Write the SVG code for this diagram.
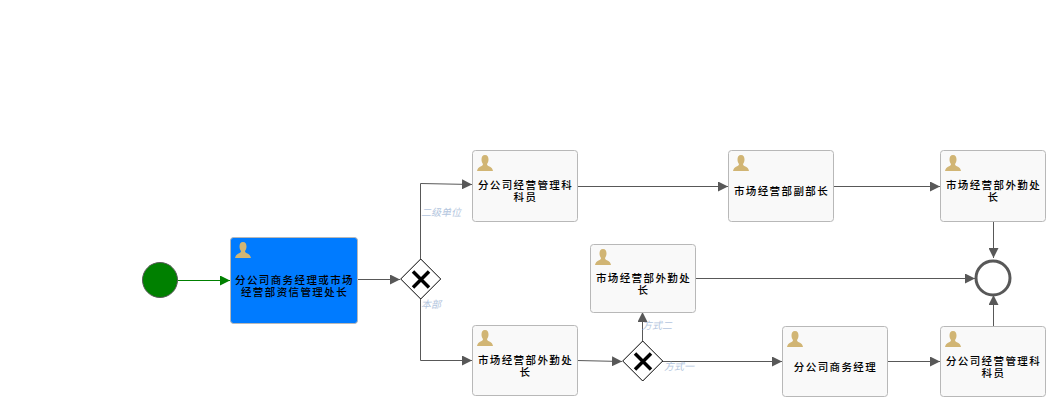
<svg xmlns="http://www.w3.org/2000/svg" width="1055" height="406" viewBox="0 0 1055 406">
<style>
text{font-family:"Noto Sans CJK SC",sans-serif;}
.t{fill:#f9f9f9;stroke:#b8b8b8;stroke-width:1}
.a{fill:#007bff;stroke:#b8b8b8;stroke-width:1}
.l{font-size:10.500px;letter-spacing:1.400px;fill:#000;text-anchor:middle;font-weight:500}
.c{font-size:10px;fill:#b4c6de;font-style:italic}
.f{fill:none;stroke:#585858;stroke-width:1;marker-end:url(#ah)}
.g{fill:#fff;stroke:#000;stroke-width:1}
.x{stroke:#000;stroke-width:3.500;fill:none}
.u{fill:#d1b574}
</style>
<defs>
<marker id="ah" markerUnits="userSpaceOnUse" markerWidth="10" markerHeight="10" refX="10" refY="5" orient="auto"><path d="M0 0L10 5L0 10Z" fill="#585858"/></marker>
<marker id="ag" markerUnits="userSpaceOnUse" markerWidth="10" markerHeight="10" refX="10" refY="5" orient="auto"><path d="M0 0L10 5L0 10Z" fill="#008000"/></marker>
<symbol id="user" overflow="visible"><path class="u" d="M8 0C5.500 0 4.500 2 4.500 4.500C4.500 6.500 5.300 8 6 9C6 10.500 4.500 11 3 11.800C1.500 12.500 .5 14 0 16H16C15.500 14 14.500 12.500 13 11.800C11.500 11 10 10.500 10 9C10.700 8 11.500 6.500 11.500 4.500C11.500 2 10.500 0 8 0Z"/></symbol>
</defs>
<g id="connectors">
<path d="M178 280.500H230" fill="none" stroke="#008000" stroke-width="1" marker-end="url(#ag)"/>
<path class="f" d="M357 279.500H400"/>
<path class="f" d="M420.500 259V183.500L472 184.500"/>
<path class="f" d="M420.500 299V360.500H472"/>
<path class="f" d="M577 186.500H728"/>
<path class="f" d="M833 186.500H940"/>
<path class="f" d="M993.500 221V258"/>
<path class="f" d="M695 278.500H975"/>
<path class="f" d="M577 360.500L622 361.500"/>
<path class="f" d="M642.500 341V312"/>
<path class="f" d="M662 361.500H782"/>
<path class="f" d="M887 361.500H940"/>
<path class="f" d="M993.500 326V295"/>
</g>
<g id="start"><circle cx="160" cy="280" r="17.500" fill="#008000" stroke="#585858" stroke-width="1"/></g>
<g id="task1"><rect class="a" x="230.500" y="237.500" width="127" height="86" rx="3"/><use href="#user" x="235" y="242"/><text class="l"><tspan x="294.500" y="284">分公司商务经理或市场</tspan><tspan x="294.500" y="296">经营部资信管理处长</tspan></text></g>
<g id="gw1"><path class="g" d="M420.700 259L440.700 279L420.700 299L400.700 279Z"/><path class="x" d="M413 271.500L429 287.500M429 271.500L413 287.500"/></g>
<g id="task2"><rect class="t" x="472.500" y="150.500" width="105" height="71" rx="3"/><use href="#user" x="477" y="155"/><text class="l"><tspan x="525.500" y="189">分公司经营管理科</tspan><tspan x="525.500" y="201">科员</tspan></text></g>
<g id="task3"><rect class="t" x="728.500" y="150.500" width="105" height="71" rx="3"/><use href="#user" x="733" y="155"/><text class="l"><tspan x="781.500" y="195">市场经营部副部长</tspan></text></g>
<g id="task4"><rect class="t" x="940.500" y="150.500" width="105" height="71" rx="3"/><use href="#user" x="945" y="155"/><text class="l"><tspan x="993.500" y="189">市场经营部外勤处</tspan><tspan x="993.500" y="201">长</tspan></text></g>
<g id="task5"><rect class="t" x="590.500" y="244.500" width="105" height="68" rx="3"/><use href="#user" x="595" y="249"/><text class="l"><tspan x="643.500" y="282">市场经营部外勤处</tspan><tspan x="643.500" y="294">长</tspan></text></g>
<g id="task6"><rect class="t" x="472.500" y="325.500" width="105" height="70" rx="3"/><use href="#user" x="477" y="330"/><text class="l"><tspan x="525.500" y="364">市场经营部外勤处</tspan><tspan x="525.500" y="376">长</tspan></text></g>
<g id="gw2"><path class="g" d="M642.700 341L662.700 361L642.700 381L622.700 361Z"/><path class="x" d="M635 353.500L651 369.500M651 353.500L635 369.500"/></g>
<g id="task7"><rect class="t" x="782.500" y="326.500" width="105" height="70" rx="3"/><use href="#user" x="787" y="331"/><text class="l"><tspan x="835.500" y="371">分公司商务经理</tspan></text></g>
<g id="task8"><rect class="t" x="940.500" y="326.500" width="105" height="70" rx="3"/><use href="#user" x="945" y="331"/><text class="l"><tspan x="993.500" y="365">分公司经营管理科</tspan><tspan x="993.500" y="377">科员</tspan></text></g>
<g id="end"><circle cx="993" cy="278" r="17" fill="#fff" stroke="#585858" stroke-width="3"/></g>
<g id="labels">
<text class="c" x="421" y="216">二级单位</text>
<text class="c" x="421" y="308">本部</text>
<text class="c" x="642" y="329">方式二</text>
<text class="c" x="664" y="370">方式一</text>
</g>
</svg>
